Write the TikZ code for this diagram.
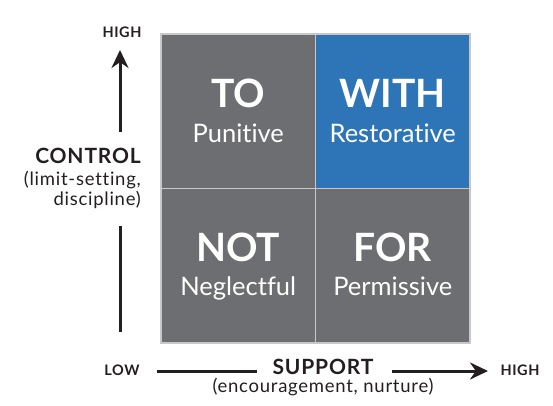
\documentclass[tikz,border=0pt]{standalone}
\usepackage{fontspec}
\setmainfont{Lato}[Ligatures=NoCommon]
\newfontfamily\axisfont{Lato}[Ligatures=NoCommon, LetterSpace=4]
\usetikzlibrary{arrows.meta, positioning}
\definecolor{cellgrey}{HTML}{6D6E71}
\definecolor{restoreblue}{HTML}{2E75B7}
\definecolor{gridgrey}{HTML}{C8C8C8}
\definecolor{axisink}{HTML}{231F20}

\tikzset{
  quadrant/.style={rectangle, draw=gridgrey, line width=1.5pt, fill=cellgrey, minimum width=154.5pt, minimum height=154.5pt, inner sep=0pt, outer sep=0pt},
  bigword/.style={font=\fontsize{39}{39}\selectfont\bfseries, text=white, anchor=base, inner sep=0pt},
  smallword/.style={font=\fontsize{25.5}{25.5}\selectfont, text=white, anchor=base, inner sep=0pt},
  axisname/.style={font=\axisfont\fontsize{21}{21}\selectfont\bfseries, text=axisink, inner sep=0pt},
  axisnote/.style={font=\axisfont\fontsize{18.5}{18.5}\selectfont, text=axisink, inner sep=0pt},
  axisend/.style={font=\axisfont\fontsize{14.5}{14.5}\selectfont\bfseries, text=axisink, inner sep=0pt, anchor=base},
  axisline/.style={line width=3pt, draw=axisink},
  axisarrow/.style={axisline, -{Stealth[length=18pt, width=17pt]}}
}

\begin{document}
\begin{tikzpicture}[x=1pt, y=-1pt]
\useasboundingbox (0,0) rectangle (553,405);

% The four quadrants
\node[quadrant] (to) at (238.25,111.25) {};
\node[quadrant, fill=restoreblue, right=0pt of to] (with) {};
\node[quadrant, below=0pt of to] (not) {};
\node[quadrant, right=0pt of not] (for) {};

% Text in the quadrants
\node[bigword] (toword) at ([yshift=4pt]to.center) {TO};
\node[smallword] (tonote) at ([yshift=-31pt]to.center) {Punitive};
\node[bigword] (withword) at ([yshift=4pt]with.center) {WITH};
\node[smallword] (withnote) at ([yshift=-31pt]with.center) {Restorative};
\node[bigword] (notword) at ([yshift=4pt]not.center) {NOT};
\node[smallword] (notnote) at ([yshift=-30pt]not.center) {Neglectful};
\node[bigword] (forword) at ([yshift=4pt]for.center) {FOR};
\node[smallword] (fornote) at ([yshift=-30pt]for.center) {Permissive};

% Control axis
\node[axisend] (ctrlhigh) at (122,37) {HIGH};
\node[axisname, anchor=base east] (control) at (141,163) {CONTROL};
\node[axisnote, anchor=base east] (limitnote) at (141,185) {(limit-setting,};
\node[axisnote, anchor=base east] (discnote) at (141,205) {discipline)};
\coordinate (ctrltop) at (120,50);
\coordinate (ctrlupper) at (120,132);
\coordinate (ctrllower) at (120,226);
\coordinate (ctrlbottom) at (120,332);
\draw[axisarrow] (ctrlupper) -- (ctrltop);
\draw[axisline] (ctrllower) -- (ctrlbottom);

% Support axis
\node[axisend] (supplow) at (122,375) {LOW};
\node[axisname, anchor=base] (support) at (323,374) {SUPPORT};
\node[axisnote, anchor=base] (suppnote) at (323,392) {(encouragement, nurture)};
\node[axisend] (supphigh) at (520,375) {HIGH};
\coordinate (suppleft) at (157,371);
\coordinate (suppmidl) at (257,371);
\coordinate (suppmidr) at (392,371);
\coordinate (suppright) at (488,371);
\draw[axisline] (suppleft) -- (suppmidl);
\draw[axisarrow] (suppmidr) -- (suppright);
\end{tikzpicture}
\end{document}
